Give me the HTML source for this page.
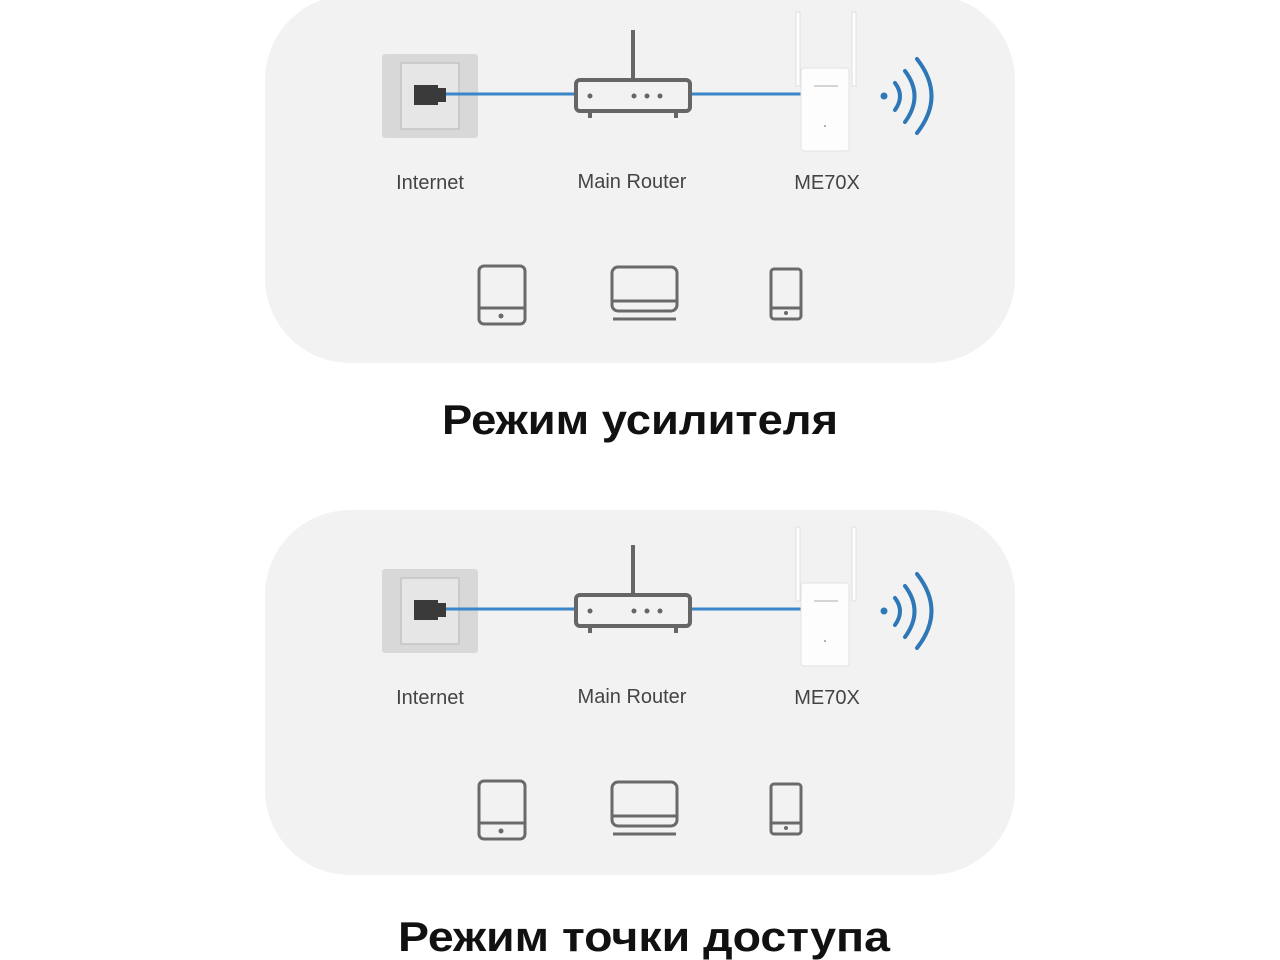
<!DOCTYPE html>
<html><head><meta charset="utf-8"><style>
html,body{margin:0;padding:0;background:#fff;}
svg{display:block;}
</style></head><body>
<svg width="1280" height="960" viewBox="0 0 1280 960" xmlns="http://www.w3.org/2000/svg">
<defs>
<g id="devs">
  <!-- internet socket -->
  <rect x="382" y="54" width="96" height="84" rx="3" fill="#d8d8d8"/>
  <rect x="401" y="63" width="58" height="66" fill="#e6e6e6" stroke="#c4c4c4" stroke-width="1.5"/>
  <line x1="446" y1="94" x2="576" y2="94" stroke="#3a86c8" stroke-width="3"/>
  <line x1="690" y1="94" x2="802" y2="94" stroke="#3a86c8" stroke-width="3"/>
  <rect x="414" y="85" width="24" height="20" fill="#3a3a3a"/>
  <rect x="436" y="88" width="10" height="14" fill="#3a3a3a"/>
  <!-- router -->
  <line x1="633" y1="30" x2="633" y2="80" stroke="#666" stroke-width="4"/>
  <rect x="576" y="80" width="114" height="31" rx="4" fill="#f2f2f2" stroke="#666" stroke-width="4"/>
  <line x1="590" y1="111" x2="590" y2="118" stroke="#666" stroke-width="4"/>
  <line x1="676" y1="111" x2="676" y2="118" stroke="#666" stroke-width="4"/>
  <circle cx="590" cy="96" r="2.5" fill="#666"/>
  <circle cx="634" cy="96" r="2.5" fill="#666"/>
  <circle cx="647" cy="96" r="2.5" fill="#666"/>
  <circle cx="660" cy="96" r="2.5" fill="#666"/>
  <!-- ME70X -->
  <rect x="796" y="12" width="4" height="74" fill="#fff" stroke="#ddd" stroke-width="1"/>
  <rect x="852" y="12" width="4" height="74" fill="#fff" stroke="#ddd" stroke-width="1"/>
  <rect x="801" y="68" width="48" height="83" rx="3" fill="#fdfdfd" stroke="#e2e2e2" stroke-width="1"/>
  <line x1="814" y1="86" x2="838" y2="86" stroke="#aaa" stroke-width="1"/>
  <circle cx="825" cy="126" r="1" fill="#999"/>
  <!-- wifi -->
  <circle cx="884" cy="96" r="3.5" fill="#2f78b8"/>
  <path d="M895 83 Q905 96 895 110" fill="none" stroke="#2f78b8" stroke-width="4" stroke-linecap="round"/>
  <path d="M905 71 Q924 96 905 122" fill="none" stroke="#2f78b8" stroke-width="4" stroke-linecap="round"/>
  <path d="M917 59 Q946 96 917 133" fill="none" stroke="#2f78b8" stroke-width="4" stroke-linecap="round"/>
  <!-- labels -->
  <g font-family="Liberation Sans, sans-serif" font-size="20" fill="#444" text-anchor="middle">
    <text x="430" y="189">Internet</text>
    <text x="632" y="188">Main Router</text>
    <text x="827" y="189">ME70X</text>
  </g>
  <!-- devices -->
  <g fill="none" stroke="#6a6a6a" stroke-width="3">
    <rect x="479" y="266" width="46" height="58" rx="5"/>
    <line x1="479" y1="308" x2="525" y2="308"/>
    <rect x="612" y="267" width="65" height="44" rx="6"/>
    <line x1="612" y1="301" x2="677" y2="301"/>
    <line x1="613" y1="319" x2="676" y2="319"/>
    <rect x="771" y="269" width="30" height="50" rx="3"/>
    <line x1="771" y1="308" x2="801" y2="308"/>
  </g>
  <circle cx="501" cy="316" r="2.5" fill="#6a6a6a"/>
  <circle cx="786" cy="313" r="2" fill="#6a6a6a"/>
</g>
</defs>
<rect x="265" y="-5" width="750" height="368" rx="85" fill="#f2f2f2"/>
<rect x="265" y="510" width="750" height="365" rx="85" fill="#f2f2f2"/>
<use href="#devs"/>
<use href="#devs" transform="translate(0,515)"/>
<g font-family="Liberation Sans, sans-serif" font-weight="bold" font-size="42" fill="#111">
  <text x="442" y="434" textLength="396" lengthAdjust="spacingAndGlyphs">Режим усилителя</text>
  <text x="398" y="951" textLength="492" lengthAdjust="spacingAndGlyphs">Режим точки доступа</text>
</g>
</svg>
</body></html>
